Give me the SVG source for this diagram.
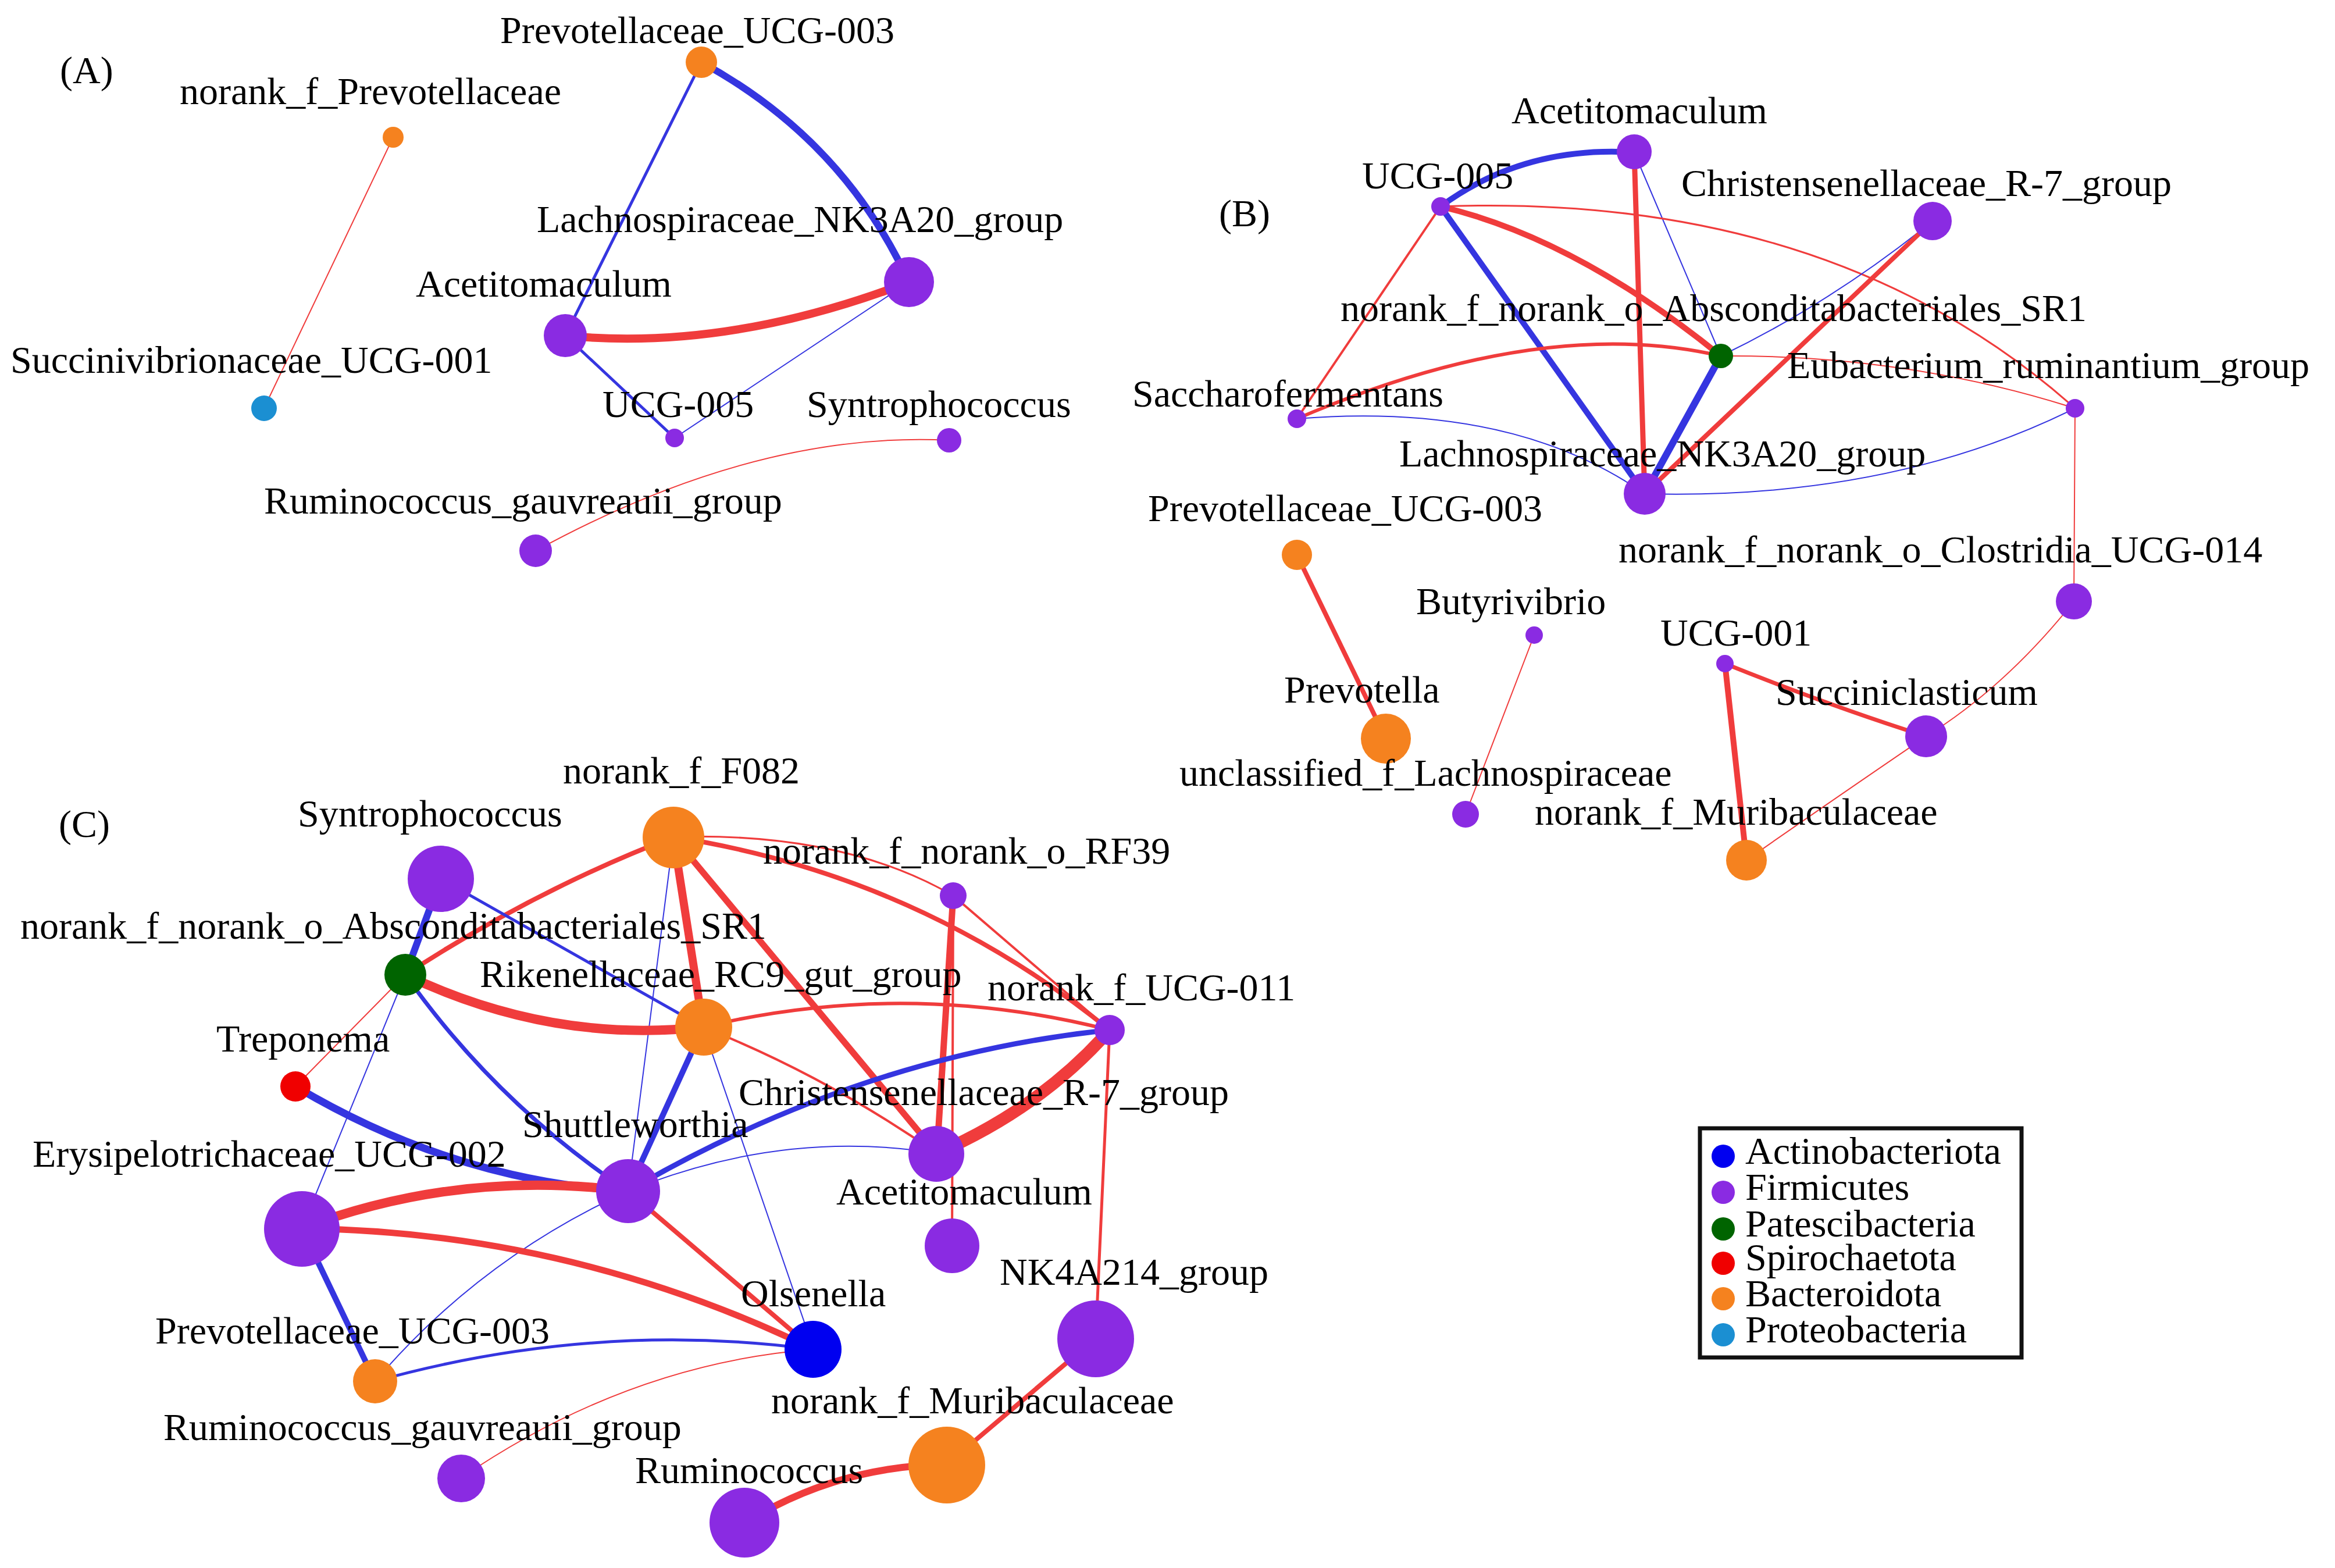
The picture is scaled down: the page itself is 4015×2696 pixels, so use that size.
<svg xmlns="http://www.w3.org/2000/svg" width="4015" height="2696" viewBox="0 0 4015 2696">
<style>
.lbl{font-family:"Liberation Serif","Times New Roman",serif;font-size:66px;fill:#000}
.p{stroke:#f03c3c;fill:none;stroke-linecap:round}
.n{stroke:#3535e0;fill:none;stroke-linecap:round}
.fir{fill:#8a2be2}
.bac{fill:#f5821f}
.pat{fill:#006400}
.spi{fill:#f00000}
.act{fill:#0000f0}
.pro{fill:#1b8fd2}
</style>
<rect width="4015" height="2696" fill="#fff"/>

<g id="connectors">
<!-- Panel A -->
<path class="n" stroke-width="5" d="M1206,107 L972,577"/>
<path class="n" stroke-width="12" d="M1206,107 Q1450,240 1563,485"/>
<path class="p" stroke-width="14" d="M972,577 Q1250,605 1563,485"/>
<path class="n" stroke-width="5" d="M972,577 L1160,753"/>
<path class="n" stroke-width="2" d="M1563,485 L1160,753"/>
<path class="p" stroke-width="2" d="M676,236 L454,702"/>
<path class="p" stroke-width="2" d="M1632,757 Q1300,740 921,947"/>
<!-- Panel B -->
<path class="n" stroke-width="10" d="M2477,355 Q2620,250 2810,262"/>
<path class="p" stroke-width="9" d="M2810,262 L2828,849"/>
<path class="n" stroke-width="2" d="M2810,262 L2959,612"/>
<path class="n" stroke-width="10" d="M2477,355 L2828,849"/>
<path class="p" stroke-width="10" d="M2477,355 Q2710,410 2959,612"/>
<path class="p" stroke-width="4" d="M2477,355 L2230,720"/>
<path class="p" stroke-width="3" d="M2477,355 Q3150,330 3568,702"/>
<path class="n" stroke-width="2" d="M3323,380 Q3150,520 2959,612"/>
<path class="p" stroke-width="8" d="M3323,380 L2828,849"/>
<path class="n" stroke-width="12" d="M2959,612 L2828,849"/>
<path class="p" stroke-width="6" d="M2230,720 Q2650,540 2959,612"/>
<path class="n" stroke-width="2" d="M2230,720 Q2600,690 2828,849"/>
<path class="p" stroke-width="2" d="M2959,612 Q3280,610 3568,702"/>
<path class="n" stroke-width="2" d="M2828,849 Q3250,860 3568,702"/>
<path class="p" stroke-width="2" d="M3568,702 L3566,1034"/>
<path class="p" stroke-width="2" d="M3566,1034 Q3450,1180 3312,1266"/>
<path class="p" stroke-width="8" d="M2230,954 L2383,1270"/>
<path class="p" stroke-width="2" d="M2638,1092 L2520,1400"/>
<path class="p" stroke-width="7" d="M2966,1141 Q3150,1215 3312,1266"/>
<path class="p" stroke-width="10" d="M2966,1141 L3003,1479"/>
<path class="p" stroke-width="2" d="M3312,1266 Q3130,1390 3003,1479"/>
<!-- Panel C -->
<path class="p" stroke-width="8" d="M1158,1439 Q920,1530 697,1676"/>
<path class="p" stroke-width="14" d="M1158,1439 L1209,1766"/>
<path class="n" stroke-width="2" d="M1158,1439 L1080,2048"/>
<path class="p" stroke-width="3" d="M1158,1439 Q1450,1430 1639,1540"/>
<path class="p" stroke-width="11" d="M1158,1439 L1611,1983"/>
<path class="p" stroke-width="8" d="M1158,1439 Q1578,1504 1908,1771"/>
<path class="p" stroke-width="4" d="M1639,1540 L1637,2142"/>
<path class="p" stroke-width="11" d="M1639,1540 L1611,1983"/>
<path class="p" stroke-width="4" d="M1639,1540 L1908,1771"/>
<path class="n" stroke-width="12" d="M758,1511 L697,1676"/>
<path class="n" stroke-width="5" d="M758,1511 L1209,1766"/>
<path class="p" stroke-width="16" d="M697,1676 Q947,1795 1209,1766"/>
<path class="p" stroke-width="2" d="M697,1676 L508,1868"/>
<path class="n" stroke-width="7" d="M697,1676 Q854,1898 1080,2048"/>
<path class="n" stroke-width="2" d="M697,1676 L519,2112"/>
<path class="p" stroke-width="6" d="M1209,1766 Q1558,1682 1908,1771"/>
<path class="n" stroke-width="10" d="M1209,1766 L1080,2048"/>
<path class="p" stroke-width="4" d="M1209,1766 Q1420,1850 1611,1983"/>
<path class="n" stroke-width="2" d="M1209,1766 L1399,2320"/>
<path class="n" stroke-width="9" d="M1908,1771 Q1480,1815 1080,2048"/>
<path class="p" stroke-width="21" d="M1908,1771 Q1790,1905 1611,1983"/>
<path class="p" stroke-width="5" d="M1908,1771 L1884,2301"/>
<path class="n" stroke-width="13" d="M508,1868 Q780,2030 1080,2048"/>
<path class="n" stroke-width="2" d="M1611,1983 Q1346,1940 1080,2048"/>
<path class="p" stroke-width="16" d="M1080,2048 Q790,2010 519,2112"/>
<path class="p" stroke-width="8" d="M1080,2048 L1399,2320"/>
<path class="n" stroke-width="2" d="M1080,2048 Q826,2163 645,2375"/>
<path class="p" stroke-width="11" d="M519,2112 Q982,2118 1399,2320"/>
<path class="n" stroke-width="10" d="M519,2112 L645,2375"/>
<path class="n" stroke-width="5" d="M645,2375 Q1022,2270 1399,2320"/>
<path class="p" stroke-width="2" d="M1399,2320 Q1080,2345 793,2541"/>
<path class="p" stroke-width="8" d="M1884,2301 L1628,2518"/>
<path class="p" stroke-width="12" d="M1628,2518 Q1440,2520 1280,2619"/>
</g>

<!-- Panel A nodes -->
<g id="A-Prevotellaceae_UCG-003"><circle class="bac" cx="1206" cy="107" r="27"/><text class="lbl" x="860" y="74">Prevotellaceae_UCG-003</text></g>
<g id="A-norank_f_Prevotellaceae"><circle class="bac" cx="676" cy="236" r="18"/><text class="lbl" x="309" y="179">norank_f_Prevotellaceae</text></g>
<g id="A-Lachnospiraceae_NK3A20_group"><circle class="fir" cx="1563" cy="485" r="43"/><text class="lbl" x="923" y="399">Lachnospiraceae_NK3A20_group</text></g>
<g id="A-Acetitomaculum"><circle class="fir" cx="972" cy="577" r="37"/><text class="lbl" x="715" y="510">Acetitomaculum</text></g>
<g id="A-Succinivibrionaceae_UCG-001"><circle class="pro" cx="454" cy="702" r="22"/><text class="lbl" x="18" y="641">Succinivibrionaceae_UCG-001</text></g>
<g id="A-UCG-005"><circle class="fir" cx="1160" cy="753" r="16"/><text class="lbl" x="1036" y="717">UCG-005</text></g>
<g id="A-Syntrophococcus"><circle class="fir" cx="1632" cy="757" r="21"/><text class="lbl" x="1387" y="717">Syntrophococcus</text></g>
<g id="A-Ruminococcus_gauvreauii_group"><circle class="fir" cx="921" cy="947" r="28"/><text class="lbl" x="454" y="883">Ruminococcus_gauvreauii_group</text></g>
<text class="lbl" x="103" y="143">(A)</text>

<!-- Panel B nodes -->
<g id="B-Acetitomaculum"><circle class="fir" cx="2810" cy="261" r="30"/><text class="lbl" x="2599" y="212">Acetitomaculum</text></g>
<g id="B-UCG-005"><circle class="fir" cx="2477" cy="355" r="16"/><text class="lbl" x="2342" y="324">UCG-005</text></g>
<g id="B-Christensenellaceae_R-7_group"><circle class="fir" cx="3323" cy="380" r="33"/><text class="lbl" x="2891" y="337">Christensenellaceae_R-7_group</text></g>
<g id="B-Eubacterium_ruminantium_group"><circle class="fir" cx="3568" cy="702" r="16"/><text class="lbl" x="3073" y="650">Eubacterium_ruminantium_group</text></g>
<g id="B-Saccharofermentans"><circle class="fir" cx="2230" cy="720" r="16"/><text class="lbl" x="1947" y="699">Saccharofermentans</text></g>
<g id="B-Lachnospiraceae_NK3A20_group"><circle class="fir" cx="2828" cy="849" r="36"/><text class="lbl" x="2406" y="802">Lachnospiraceae_NK3A20_group</text></g>
<g id="B-norank_f_norank_o_Absconditabacteriales_SR1"><circle class="pat" cx="2959" cy="612" r="21"/><text class="lbl" x="2305" y="552">norank_f_norank_o_Absconditabacteriales_SR1</text></g>
<g id="B-Prevotellaceae_UCG-003"><circle class="bac" cx="2230" cy="954" r="26"/><text class="lbl" x="1974" y="896">Prevotellaceae_UCG-003</text></g>
<g id="B-norank_f_norank_o_Clostridia_UCG-014"><circle class="fir" cx="3566" cy="1034" r="31"/><text class="lbl" x="2783" y="967">norank_f_norank_o_Clostridia_UCG-014</text></g>
<g id="B-Butyrivibrio"><circle class="fir" cx="2638" cy="1092" r="15"/><text class="lbl" x="2435" y="1056">Butyrivibrio</text></g>
<g id="B-UCG-001"><circle class="fir" cx="2966" cy="1141" r="15"/><text class="lbl" x="2855" y="1110">UCG-001</text></g>
<g id="B-Succiniclasticum"><circle class="fir" cx="3312" cy="1266" r="36"/><text class="lbl" x="3053" y="1212">Succiniclasticum</text></g>
<g id="B-Prevotella"><circle class="bac" cx="2383" cy="1270" r="43"/><text class="lbl" x="2208" y="1208">Prevotella</text></g>
<g id="B-unclassified_f_Lachnospiraceae"><circle class="fir" cx="2520" cy="1400" r="23"/><text class="lbl" x="2028" y="1351">unclassified_f_Lachnospiraceae</text></g>
<g id="B-norank_f_Muribaculaceae"><circle class="bac" cx="3003" cy="1479" r="35"/><text class="lbl" x="2639" y="1418">norank_f_Muribaculaceae</text></g>
<text class="lbl" x="2096" y="389">(B)</text>

<!-- Panel C nodes -->
<g id="C-norank_f_F082"><circle class="bac" cx="1158" cy="1440" r="53"/><text class="lbl" x="968" y="1347">norank_f_F082</text></g>
<g id="C-Syntrophococcus"><circle class="fir" cx="758" cy="1511" r="57"/><text class="lbl" x="512" y="1421">Syntrophococcus</text></g>
<g id="C-norank_f_norank_o_RF39"><circle class="fir" cx="1639" cy="1540" r="23"/><text class="lbl" x="1312" y="1485">norank_f_norank_o_RF39</text></g>
<g id="C-norank_f_norank_o_Absconditabacteriales_SR1"><circle class="pat" cx="697" cy="1676" r="36"/><text class="lbl" x="35" y="1614">norank_f_norank_o_Absconditabacteriales_SR1</text></g>
<g id="C-Rikenellaceae_RC9_gut_group"><circle class="bac" cx="1210" cy="1766" r="49"/><text class="lbl" x="825" y="1697">Rikenellaceae_RC9_gut_group</text></g>
<g id="C-norank_f_UCG-011"><circle class="fir" cx="1908" cy="1771" r="26"/><text class="lbl" x="1698" y="1720">norank_f_UCG-011</text></g>
<g id="C-Treponema"><circle class="spi" cx="508" cy="1868" r="26"/><text class="lbl" x="372" y="1808">Treponema</text></g>
<g id="C-Christensenellaceae_R-7_group"><circle class="fir" cx="1610" cy="1984" r="48"/><text class="lbl" x="1270" y="1900">Christensenellaceae_R-7_group</text></g>
<g id="C-Shuttleworthia"><circle class="fir" cx="1080" cy="2048" r="55"/><text class="lbl" x="898" y="1955">Shuttleworthia</text></g>
<g id="C-Erysipelotrichaceae_UCG-002"><circle class="fir" cx="519" cy="2113" r="65"/><text class="lbl" x="56" y="2006">Erysipelotrichaceae_UCG-002</text></g>
<g id="C-Acetitomaculum"><circle class="fir" cx="1637" cy="2142" r="47"/><text class="lbl" x="1438" y="2071">Acetitomaculum</text></g>
<g id="C-NK4A214_group"><circle class="fir" cx="1884" cy="2302" r="66"/><text class="lbl" x="1719" y="2209">NK4A214_group</text></g>
<g id="C-Olsenella"><circle class="act" cx="1398" cy="2320" r="49"/><text class="lbl" x="1274" y="2246">Olsenella</text></g>
<g id="C-Prevotellaceae_UCG-003"><circle class="bac" cx="645" cy="2375" r="38"/><text class="lbl" x="267" y="2310">Prevotellaceae_UCG-003</text></g>
<g id="C-norank_f_Muribaculaceae"><circle class="bac" cx="1628" cy="2519" r="66"/><text class="lbl" x="1326" y="2430">norank_f_Muribaculaceae</text></g>
<g id="C-Ruminococcus_gauvreauii_group"><circle class="fir" cx="793" cy="2542" r="41"/><text class="lbl" x="281" y="2476">Ruminococcus_gauvreauii_group</text></g>
<g id="C-Ruminococcus"><circle class="fir" cx="1280" cy="2618" r="60"/><text class="lbl" x="1092" y="2550">Ruminococcus</text></g>
<text class="lbl" x="101" y="1439">(C)</text>

<!-- Legend -->
<g id="legend">
<rect x="2923" y="1940" width="553" height="394" fill="#fff" stroke="#111" stroke-width="7"/>
<circle class="act" cx="2963" cy="1988" r="20"/><text class="lbl" x="3001" y="2001">Actinobacteriota</text>
<circle class="fir" cx="2963" cy="2050" r="20"/><text class="lbl" x="3001" y="2063">Firmicutes</text>
<circle class="pat" cx="2963" cy="2113" r="20"/><text class="lbl" x="3001" y="2126">Patescibacteria</text>
<circle class="spi" cx="2963" cy="2172" r="20"/><text class="lbl" x="3001" y="2184">Spirochaetota</text>
<circle class="bac" cx="2963" cy="2233" r="20"/><text class="lbl" x="3001" y="2246">Bacteroidota</text>
<circle class="pro" cx="2963" cy="2295" r="20"/><text class="lbl" x="3001" y="2308">Proteobacteria</text>
</g>
</svg>
